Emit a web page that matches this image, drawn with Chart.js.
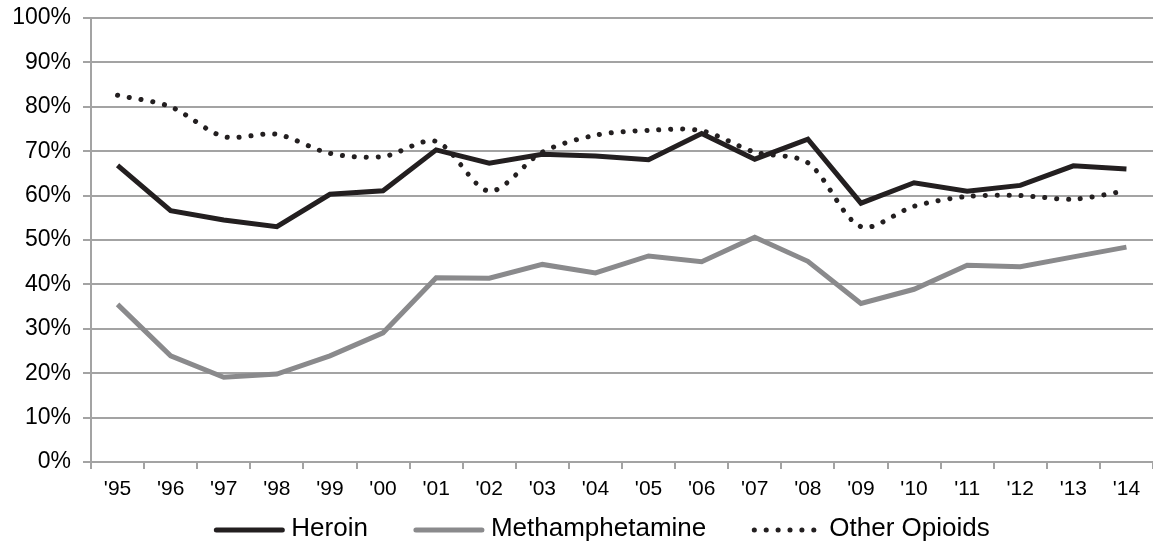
<!DOCTYPE html>
<html>
<head>
<meta charset="utf-8">
<script src="https://cdn.jsdelivr.net/npm/chart.js@4/dist/chart.umd.min.js"></script>
<style>
  html, body { margin: 0; padding: 0; background: #fff; }
  #wrap { width: 1153px; height: 542px; position: relative; }
</style>
</head>
<body>
<div id="wrap"><canvas id="chart"></canvas></div>
<script>
// data (percent)
const years = ["'95", "'96", "'97", "'98", "'99", "'00", "'01", "'02", "'03", "'04",
               "'05", "'06", "'07", "'08", "'09", "'10", "'11", "'12", "'13", "'14"];
const heroin = [66.8, 56.6, 54.5, 53.0, 60.3, 61.1, 70.3, 67.3, 69.3, 68.9,
                68.1, 74.0, 68.2, 72.7, 58.3, 62.9, 61.0, 62.3, 66.7, 66.0];
const meth = [35.5, 23.9, 19.1, 19.8, 23.9, 29.1, 41.5, 41.4, 44.5, 42.6,
              46.4, 45.1, 50.6, 45.2, 35.7, 38.9, 44.3, 44.0, 46.2, 48.4];
const otherOpioids = [82.6, 80.0, 73.3, 73.8, 69.5, 68.8, 72.2, 61.0, 69.8, 73.6,
                      74.7, 74.6, 69.8, 67.4, 53.0, 57.6, 59.8, 60.0, 59.2, 61.1];
const yTicks = [0, 10, 20, 30, 40, 50, 60, 70, 80, 90, 100];

const FONT = 'Liberation Sans, Arial, Helvetica, sans-serif';
const GRID = '#a3a3a3';

// legend drawn by hand so the samples look like the original line styles
const lineLegend = {
    id: 'lineLegend',
    afterDraw(chart) {
        const ctx = chart.ctx;
        const items = chart.data.datasets;
        const sampleW = 70, textGap = 7, itemGap = 46, y = 530;
        ctx.save();
        ctx.font = '26px ' + FONT;
        const widths = items.map(d => sampleW + textGap + ctx.measureText(d.label).width);
        const total = widths.reduce((a, b) => a + b, 0) + itemGap * (items.length - 1);
        let x = 602 - total / 2;
        items.forEach((d, i) => {
            ctx.beginPath();
            ctx.strokeStyle = d.borderColor;
            ctx.lineWidth = d.borderWidth;
            ctx.lineCap = 'round';
            ctx.setLineDash(d.borderDash || []);
            ctx.moveTo(x + 2, y);
            ctx.lineTo(x + sampleW - 2, y);
            ctx.stroke();
            ctx.setLineDash([]);
            ctx.fillStyle = '#000';
            ctx.textBaseline = 'middle';
            ctx.textAlign = 'left';
            ctx.fillText(d.label, x + sampleW + textGap, y - 1);
            x += widths[i] + itemGap;
        });
        ctx.restore();
    }
};

new Chart(document.getElementById('chart'), {
    type: 'line',
    data: {
        labels: years,
        datasets: [
            {
                label: 'Heroin',
                data: heroin,
                borderColor: '#231f20',
                borderWidth: 5,
                borderJoinStyle: 'miter',
                pointRadius: 0,
                tension: 0,
                order: 1
            },
            {
                label: 'Methamphetamine',
                data: meth,
                borderColor: '#8a8a8c',
                borderWidth: 5,
                pointRadius: 0,
                tension: 0,
                order: 2
            },
            {
                label: 'Other Opioids',
                data: otherOpioids,
                borderColor: '#231f20',
                borderWidth: 5,
                borderDash: [0.1, 11.8],
                borderCapStyle: 'round',
                pointRadius: 0,
                tension: 0.3,
                order: 0
            }
        ]
    },
    options: {
        responsive: true,
        maintainAspectRatio: false,
        animation: false,
        layout: { padding: { top: 18, right: 0, left: 0, bottom: 0 } },
        plugins: {
            legend: { display: false },
            tooltip: { enabled: false }
        },
        scales: {
            x: {
                offset: true,
                grid: {
                    offset: true,
                    drawOnChartArea: false,
                    drawTicks: true,
                    tickLength: 7,
                    color: GRID,
                    lineWidth: 2
                },
                border: { display: true, color: GRID, width: 2 },
                ticks: {
                    color: '#000',
                    font: { family: FONT, size: 21 },
                    padding: 8,
                    maxRotation: 0,
                    autoSkip: false
                },
                afterFit(scale) { scale.height = 80; scale.paddingLeft = 0; scale.paddingRight = 0; }
            },
            y: {
                min: 0,
                max: 100,
                afterBuildTicks(scale) { scale.ticks = yTicks.map(v => ({ value: v })); },
                grid: {
                    color: GRID,
                    lineWidth: 2,
                    tickLength: 8
                },
                border: { display: true, color: GRID, width: 2 },
                ticks: {
                    color: '#000',
                    font: { family: FONT, size: 23 },
                    padding: 12,
                    callback: v => v + '%'
                },
                afterFit(scale) { scale.width = 91; scale.paddingTop = 0; scale.paddingBottom = 0; }
            }
        }
    },
    plugins: [lineLegend]
});
</script>
</body>
</html>
